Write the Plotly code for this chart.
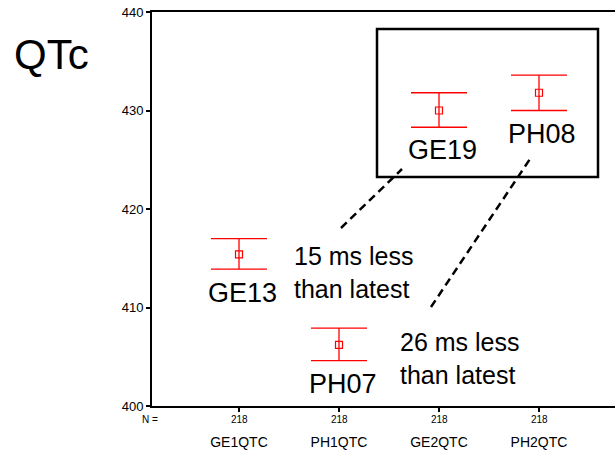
import plotly.graph_objects as go

categories = ["GE1QTC", "PH1QTC", "GE2QTC", "PH2QTC"]
n_counts = [218, 218, 218, 218]
means = [415.4, 406.2, 430.0, 431.8]
upper = [417.0, 407.9, 431.8, 433.6]
lower = [413.9, 404.6, 428.3, 430.0]
point_labels = ["GE13", "PH07", "GE19", "PH08"]

xs = list(range(len(categories)))
err_plus = [u - m for u, m in zip(upper, means)]
err_minus = [m - l for m, l in zip(means, lower)]

FONT = "Liberation Sans, Arial, sans-serif"
RED = "#ff0000"

fig = go.Figure()
fig.add_trace(go.Scatter(
    x=xs, y=means, mode="markers",
    marker=dict(symbol="square-open", size=7, color=RED, line=dict(width=1.2, color=RED)),
    error_y=dict(type="data", symmetric=False, array=err_plus, arrayminus=err_minus,
                 color=RED, thickness=1.3, width=28),
    showlegend=False, hoverinfo="skip",
))

# point labels below each error bar
label_offsets = [(0.03, 411.5), (1.04, 402.2), (2.03, 426.0), (3.03, 427.6)]
for lab, (lx, ly) in zip(point_labels, label_offsets):
    fig.add_annotation(x=lx, y=ly, xref="x", yref="y", text=lab, showarrow=False,
                       font=dict(family=FONT, size=27, color="black"),
                       xanchor="center", yanchor="middle")

fig.add_annotation(x=0.53, y=413.6, xref="x", yref="y", text="15 ms less<br>than latest",
                   showarrow=False, align="left", xanchor="left", yanchor="middle",
                   font=dict(family=FONT, size=25, color="black"))
fig.add_annotation(x=1.59, y=404.8, xref="x", yref="y", text="26 ms less<br>than latest",
                   showarrow=False, align="left", xanchor="left", yanchor="middle",
                   font=dict(family=FONT, size=25, color="black"))

fig.add_annotation(x=-0.302, y=0.891, xref="paper", yref="paper", text="QTc",
                   showarrow=False, xanchor="left", yanchor="middle",
                   font=dict(family=FONT, size=42, color="black"))

# N counts row
fig.add_annotation(x=-0.005, y=-0.034, xref="paper", yref="paper", text="N =",
                   showarrow=False, xanchor="center", yanchor="middle",
                   font=dict(family=FONT, size=10, color="black"))
for xi, n in zip(xs, n_counts):
    fig.add_annotation(x=xi, y=-0.034, xref="x", yref="paper", text=str(n),
                       showarrow=False, xanchor="center", yanchor="middle",
                       font=dict(family=FONT, size=10, color="black"))

# highlight box and dashed pointers
fig.add_shape(type="rect", xref="x", yref="y", x0=1.38, x1=3.59, y0=423.25, y1=438.27,
              line=dict(color="black", width=2.5))
fig.add_shape(type="line", xref="x", yref="y", x0=1.02, y0=418.07, x1=1.63, y1=424.06,
              line=dict(color="black", width=2.5, dash="8px,5px"))
fig.add_shape(type="line", xref="x", yref="y", x0=1.92, y0=410.05, x1=2.91, y1=425.08,
              line=dict(color="black", width=2.5, dash="8px,5px"))

fig.update_layout(
    width=615, height=451,
    margin=dict(l=152, r=0, t=12, b=45),
    paper_bgcolor="white", plot_bgcolor="white",
    font=dict(family=FONT, color="black"),
    xaxis=dict(range=[-0.87, 3.76], tickmode="array", tickvals=xs, ticktext=categories,
               automargin=False,
               showgrid=False, zeroline=False, showline=True, linecolor="black", linewidth=2,
               mirror=True, ticks="outside", ticklen=4, tickwidth=2, tickcolor="black",
               ticklabelstandoff=18, tickfont=dict(family=FONT, size=14, color="black")),
    yaxis=dict(range=[400, 440], tickvals=[400, 410, 420, 430, 440], automargin=False,
               showgrid=False, zeroline=False, showline=True, linecolor="black", linewidth=2,
               ticks="outside", ticklen=4, tickwidth=2, tickcolor="black",
               tickfont=dict(family=FONT, size=13, color="black")),
)

fig.write_html("out.html", config={"displayModeBar": False},
               post_script="document.body.style.margin='0';document.body.style.overflow='hidden';")
